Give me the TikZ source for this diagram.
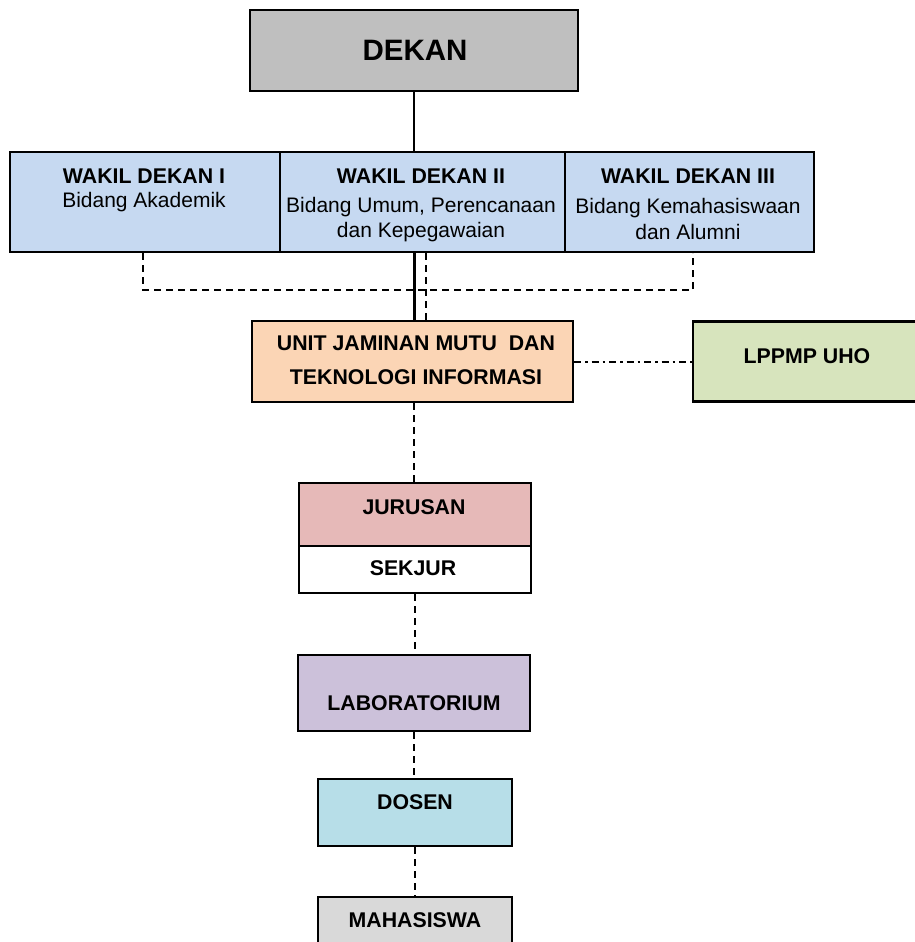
\documentclass[tikz,border=0pt]{standalone}
\usepackage{fontspec}
\setmainfont{Liberation Sans}
\definecolor{cdekan}{HTML}{BFBFBF}
\definecolor{cwakil}{HTML}{C6D9F1}
\definecolor{cujm}{HTML}{FBD5B5}
\definecolor{clppmp}{HTML}{D7E4BD}
\definecolor{cjur}{HTML}{E6B9B8}
\definecolor{clab}{HTML}{CCC1DA}
\definecolor{cdosen}{HTML}{B7DEE8}
\definecolor{cmhs}{HTML}{D9D9D9}
\begin{document}
\begin{tikzpicture}[x=1pt,y=-1pt,
  box/.style={draw=black,line width=2.2pt,rectangle,inner sep=0pt},
  txt/.style={inner sep=0pt,font=\fontsize{21.3}{25}\selectfont\bfseries},
  rtxt/.style={inner sep=0pt,font=\fontsize{21}{25}\selectfont},
  conn/.style={line width=2.2pt},
  dconn/.style={line width=2pt,dash pattern=on 7pt off 5pt},
  dotconn/.style={line width=2pt,dash pattern=on 7pt off 4pt on 2.5pt off 4pt}]
\useasboundingbox (0,0) rectangle (915,942);
% boxes (shapes)
\node[box,fill=cdekan,minimum width=328pt,minimum height=81pt] (dekan) at (414,50.5) {};
\node[box,fill=cwakil,minimum width=270pt,minimum height=100pt] (w1) at (145,202) {};
\node[box,fill=cwakil,minimum width=285pt,minimum height=100pt] (w2) at (422.5,202) {};
\node[box,fill=cwakil,minimum width=249pt,minimum height=100pt] (w3) at (689.5,202) {};
\node[box,fill=cujm,minimum width=321pt,minimum height=81pt] (ujm) at (412.5,361.5) {};
\node[box,fill=clppmp,minimum width=230pt,minimum height=80pt] (lppmp) at (808,361.5) {};
\node[box,fill=cjur,minimum width=232pt,minimum height=63pt] (jur) at (415,514.5) {};
\node[box,fill=white,minimum width=232pt,minimum height=47pt] (sek) at (415,569.5) {};
\node[box,fill=clab,minimum width=232pt,minimum height=76pt] (lab) at (414,693) {};
\node[box,fill=cdosen,minimum width=194pt,minimum height=67pt] (dosen) at (415,812.5) {};
\node[box,fill=cmhs,minimum width=194pt,minimum height=60pt] (mhs) at (415,927) {};
% connectors
\draw[conn] (dekan.south) -- (dekan.south |- w2.north);
\draw[conn] ([xshift=-8pt]w2.south) -- ([xshift=-8pt]w2.south |- ujm.north);
\draw[dconn] ([xshift=-2pt]w1.south) -- ++(0,37) -| ([xshift=3.5pt]w3.south);
\draw[dconn] ([xshift=3.5pt]w2.south) -- ([xshift=3.5pt]w2.south |- ujm.north);
\draw[dotconn] (ujm.east) -- (lppmp.west);
\draw[dconn] ([xshift=1.5pt]ujm.south) -- ([xshift=1.5pt]ujm.south |- jur.north);
\draw[dconn] (sek.south) -- (sek.south |- lab.north);
\draw[dconn] (lab.south) -- (lab.south |- dosen.north);
\draw[dconn] (dosen.south) -- (mhs.north);
% texts
\node[inner sep=0pt,font=\fontsize{29.5}{34}\selectfont\bfseries] (tdekan) at (415,50.5) {DEKAN};
\node[txt,anchor=base] (tw1a) at (144,183) {WAKIL DEKAN I};
\node[rtxt,anchor=base] (tw1b) at (144,207) {Bidang Akademik};
\node[txt,anchor=base] (tw2a) at (421,183) {WAKIL DEKAN II};
\node[rtxt,anchor=base] (tw2b) at (421,212) {Bidang Umum, Perencanaan};
\node[rtxt,anchor=base] (tw2c) at (421,237) {dan Kepegawaian};
\node[txt,anchor=base] (tw3a) at (688,183) {WAKIL DEKAN III};
\node[rtxt,anchor=base] (tw3b) at (688,213) {Bidang Kemahasiswaan};
\node[rtxt,anchor=base] (tw3c) at (688,239) {dan Alumni};
\node[txt,anchor=base] (tujma) at (416,350) {UNIT JAMINAN MUTU \ DAN};
\node[txt,anchor=base] (tujmb) at (416,384) {TEKNOLOGI INFORMASI};
\node[txt] (tlppmp) at (807,356) {LPPMP UHO};
\node[txt] (tjur) at (414,507) {JURUSAN};
\node[txt] (tsek) at (413,568) {SEKJUR};
\node[txt] (tlab) at (414,703) {LABORATORIUM};
\node[txt] (tdosen) at (415,802) {DOSEN};
\node[txt] (tmhs) at (415,920) {MAHASISWA};
\end{tikzpicture}
\end{document}
